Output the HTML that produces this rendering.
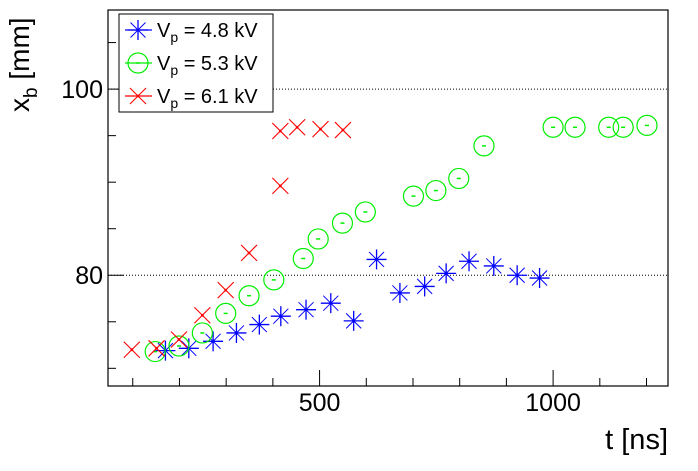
<!DOCTYPE html>
<html><head><meta charset="utf-8"><style>
body{margin:0;background:#fff;}
svg{display:block;font-family:"Liberation Sans",sans-serif;}
</style></head><body>
<svg id="chart" width="698" height="471" viewBox="0 0 698 471" xmlns="http://www.w3.org/2000/svg">
<rect x="0" y="0" width="698" height="471" fill="#fff"/>
<g id="grid"></g>
<g id="marks"></g>
<rect x="108" y="10" width="560" height="376" fill="none" stroke="#000" stroke-width="1.2"/>
<g id="axes"></g>
<text x="668" y="449" font-size="29" text-anchor="end">t [ns]</text>
<text transform="translate(29,112) rotate(-90)" font-size="28">x<tspan font-size="19" dy="8">b</tspan><tspan dy="-8"> [mm]</tspan></text>
<g>
<rect x="119" y="14" width="154" height="98" fill="#fff" stroke="#000" stroke-width="1"/>
<g id="legend-marks"></g>
<text x="157" y="37" font-size="20">V<tspan font-size="14" dy="5">p</tspan><tspan dy="-5"> = 4.8 kV</tspan></text>
<text x="157" y="70" font-size="20">V<tspan font-size="14" dy="5">p</tspan><tspan dy="-5"> = 5.3 kV</tspan></text>
<text x="157" y="103" font-size="20">V<tspan font-size="14" dy="5">p</tspan><tspan dy="-5"> = 6.1 kV</tspan></text>
</g>
</svg>
<script>
const blueT=[170,220,272,322,371,417,471,524,573,622,672,725,771,820,873,923,971];
const blueX=[71.9,72.15,72.9,73.8,74.7,75.6,76.3,77.0,75.1,81.7,78.1,78.8,80.2,81.5,81.0,80.0,79.7];
const greenT=[148,199,249,299,349,402,465,497,549,598,701,749,798,852,1000,1047,1119,1150,1201];
const greenX=[71.8,72.4,73.8,75.9,77.8,79.5,81.8,83.9,85.6,86.8,88.5,89.1,90.4,93.9,95.9,95.9,95.9,95.9,96.1];
const redT=[98,151,199,249,299,349,416,416,452,502,550];
const redX=[72.0,72.15,73.1,75.7,78.4,82.4,89.6,95.5,95.9,95.7,95.6];
const xTicksMajor=[500,1000];
const xTicksMinor=[100,200,300,400,500,600,700,800,900,1000,1100,1200];
const yTicksMajor=[80,100];
const yTicksMinor=[70,75,80,85,90,95,100,105];

const X0=108,X1=668,Y0=386,Y1=10,TMIN=47,TMAX=1246,XMIN=68.1,XMAX=108.5;
const sx=t=>X0+(t-TMIN)/(TMAX-TMIN)*(X1-X0);
const sy=v=>Y0-(v-XMIN)/(XMAX-XMIN)*(Y0-Y1);
const NS="http://www.w3.org/2000/svg";
function mk(tag,attrs,parent){const e=document.createElementNS(NS,tag);for(const k in attrs)e.setAttribute(k,attrs[k]);parent.appendChild(e);return e;}
const grid=document.getElementById('grid'),axes=document.getElementById('axes'),marks=document.getElementById('marks'),lg=document.getElementById('legend-marks');

yTicksMajor.forEach(v=>{
  const l=mk('line',{x1:X0,x2:X1,y1:sy(v),y2:sy(v),stroke:'#000','stroke-width':1,'stroke-dasharray':'1 2'},grid);
  
  
  const t=mk('text',{x:103,y:sy(v)+9,'font-size':25,'text-anchor':'end'},axes);
  t.textContent=v;
  
  
});
yTicksMinor.forEach(v=>{
  const big=yTicksMajor.includes(v);
  const l=mk('line',{x1:X0,x2:X0+(big?16:8),y1:sy(v),y2:sy(v),stroke:'#000','stroke-width':1},axes);
  
  
});
xTicksMinor.forEach(v=>{
  const big=xTicksMajor.includes(v);
  const l=mk('line',{x1:sx(v),x2:sx(v),y1:Y0,y2:Y0-(big?16:8),stroke:'#000','stroke-width':1},axes);
  
  
});
xTicksMajor.forEach(v=>{
  const t=mk('text',{x:sx(v),y:411,'font-size':25,'text-anchor':'middle'},axes);
  t.textContent=v;
  
  
});

function star(g,x,y,c){
  const r=10,d=7.5;
  mk('line',{x1:x-r,x2:x+r,y1:y,y2:y,stroke:c,'stroke-width':1.3},g);
  mk('line',{x1:x,x2:x,y1:y-r,y2:y+r,stroke:c,'stroke-width':1.3},g);
  mk('line',{x1:x-d,x2:x+d,y1:y-d,y2:y+d,stroke:c,'stroke-width':1},g);
  mk('line',{x1:x-d,x2:x+d,y1:y+d,y2:y-d,stroke:c,'stroke-width':1},g);
  mk('circle',{cx:x,cy:y,r:1.6,fill:c},g);
}
function circ(g,x,y,c){
  mk('circle',{cx:x,cy:y,r:10,fill:'none',stroke:c,'stroke-width':1.2},g);
  mk('line',{x1:x-2,x2:x+2,y1:y,y2:y,stroke:c,'stroke-width':1.5},g);
}
function cross(g,x,y,c){
  const d=8;
  mk('line',{x1:x-d,x2:x+d,y1:y-d,y2:y+d,stroke:c,'stroke-width':1.1},g);
  mk('line',{x1:x-d,x2:x+d,y1:y+d,y2:y-d,stroke:c,'stroke-width':1.1},g);
  mk('circle',{cx:x,cy:y,r:1.4,fill:c},g);
}
blueT.forEach((t,i)=>{const g=mk('g',{},marks);
  
  
  star(g,sx(t),sy(blueX[i]),'#0000ff');});
greenT.forEach((t,i)=>{const g=mk('g',{},marks);
  
  
  circ(g,sx(t),sy(greenX[i]),'#00ee00');});
redT.forEach((t,i)=>{const g=mk('g',{},marks);
  
  
  cross(g,sx(t),sy(redX[i]),'#ff0000');});

const l1=mk('g',{},lg);
mk('line',{x1:125,x2:152,y1:30,y2:30,stroke:'#0000ff','stroke-width':1.2},l1);star(l1,138,30,'#0000ff');
const l2=mk('g',{},lg);
mk('line',{x1:125,x2:152,y1:63,y2:63,stroke:'#00ee00','stroke-width':1.2},l2);circ(l2,138,63,'#00ee00');
const l3=mk('g',{},lg);
mk('line',{x1:125,x2:152,y1:96,y2:96,stroke:'#ff0000','stroke-width':1.2},l3);cross(l3,138,96,'#ff0000');
</script>
</body></html>
